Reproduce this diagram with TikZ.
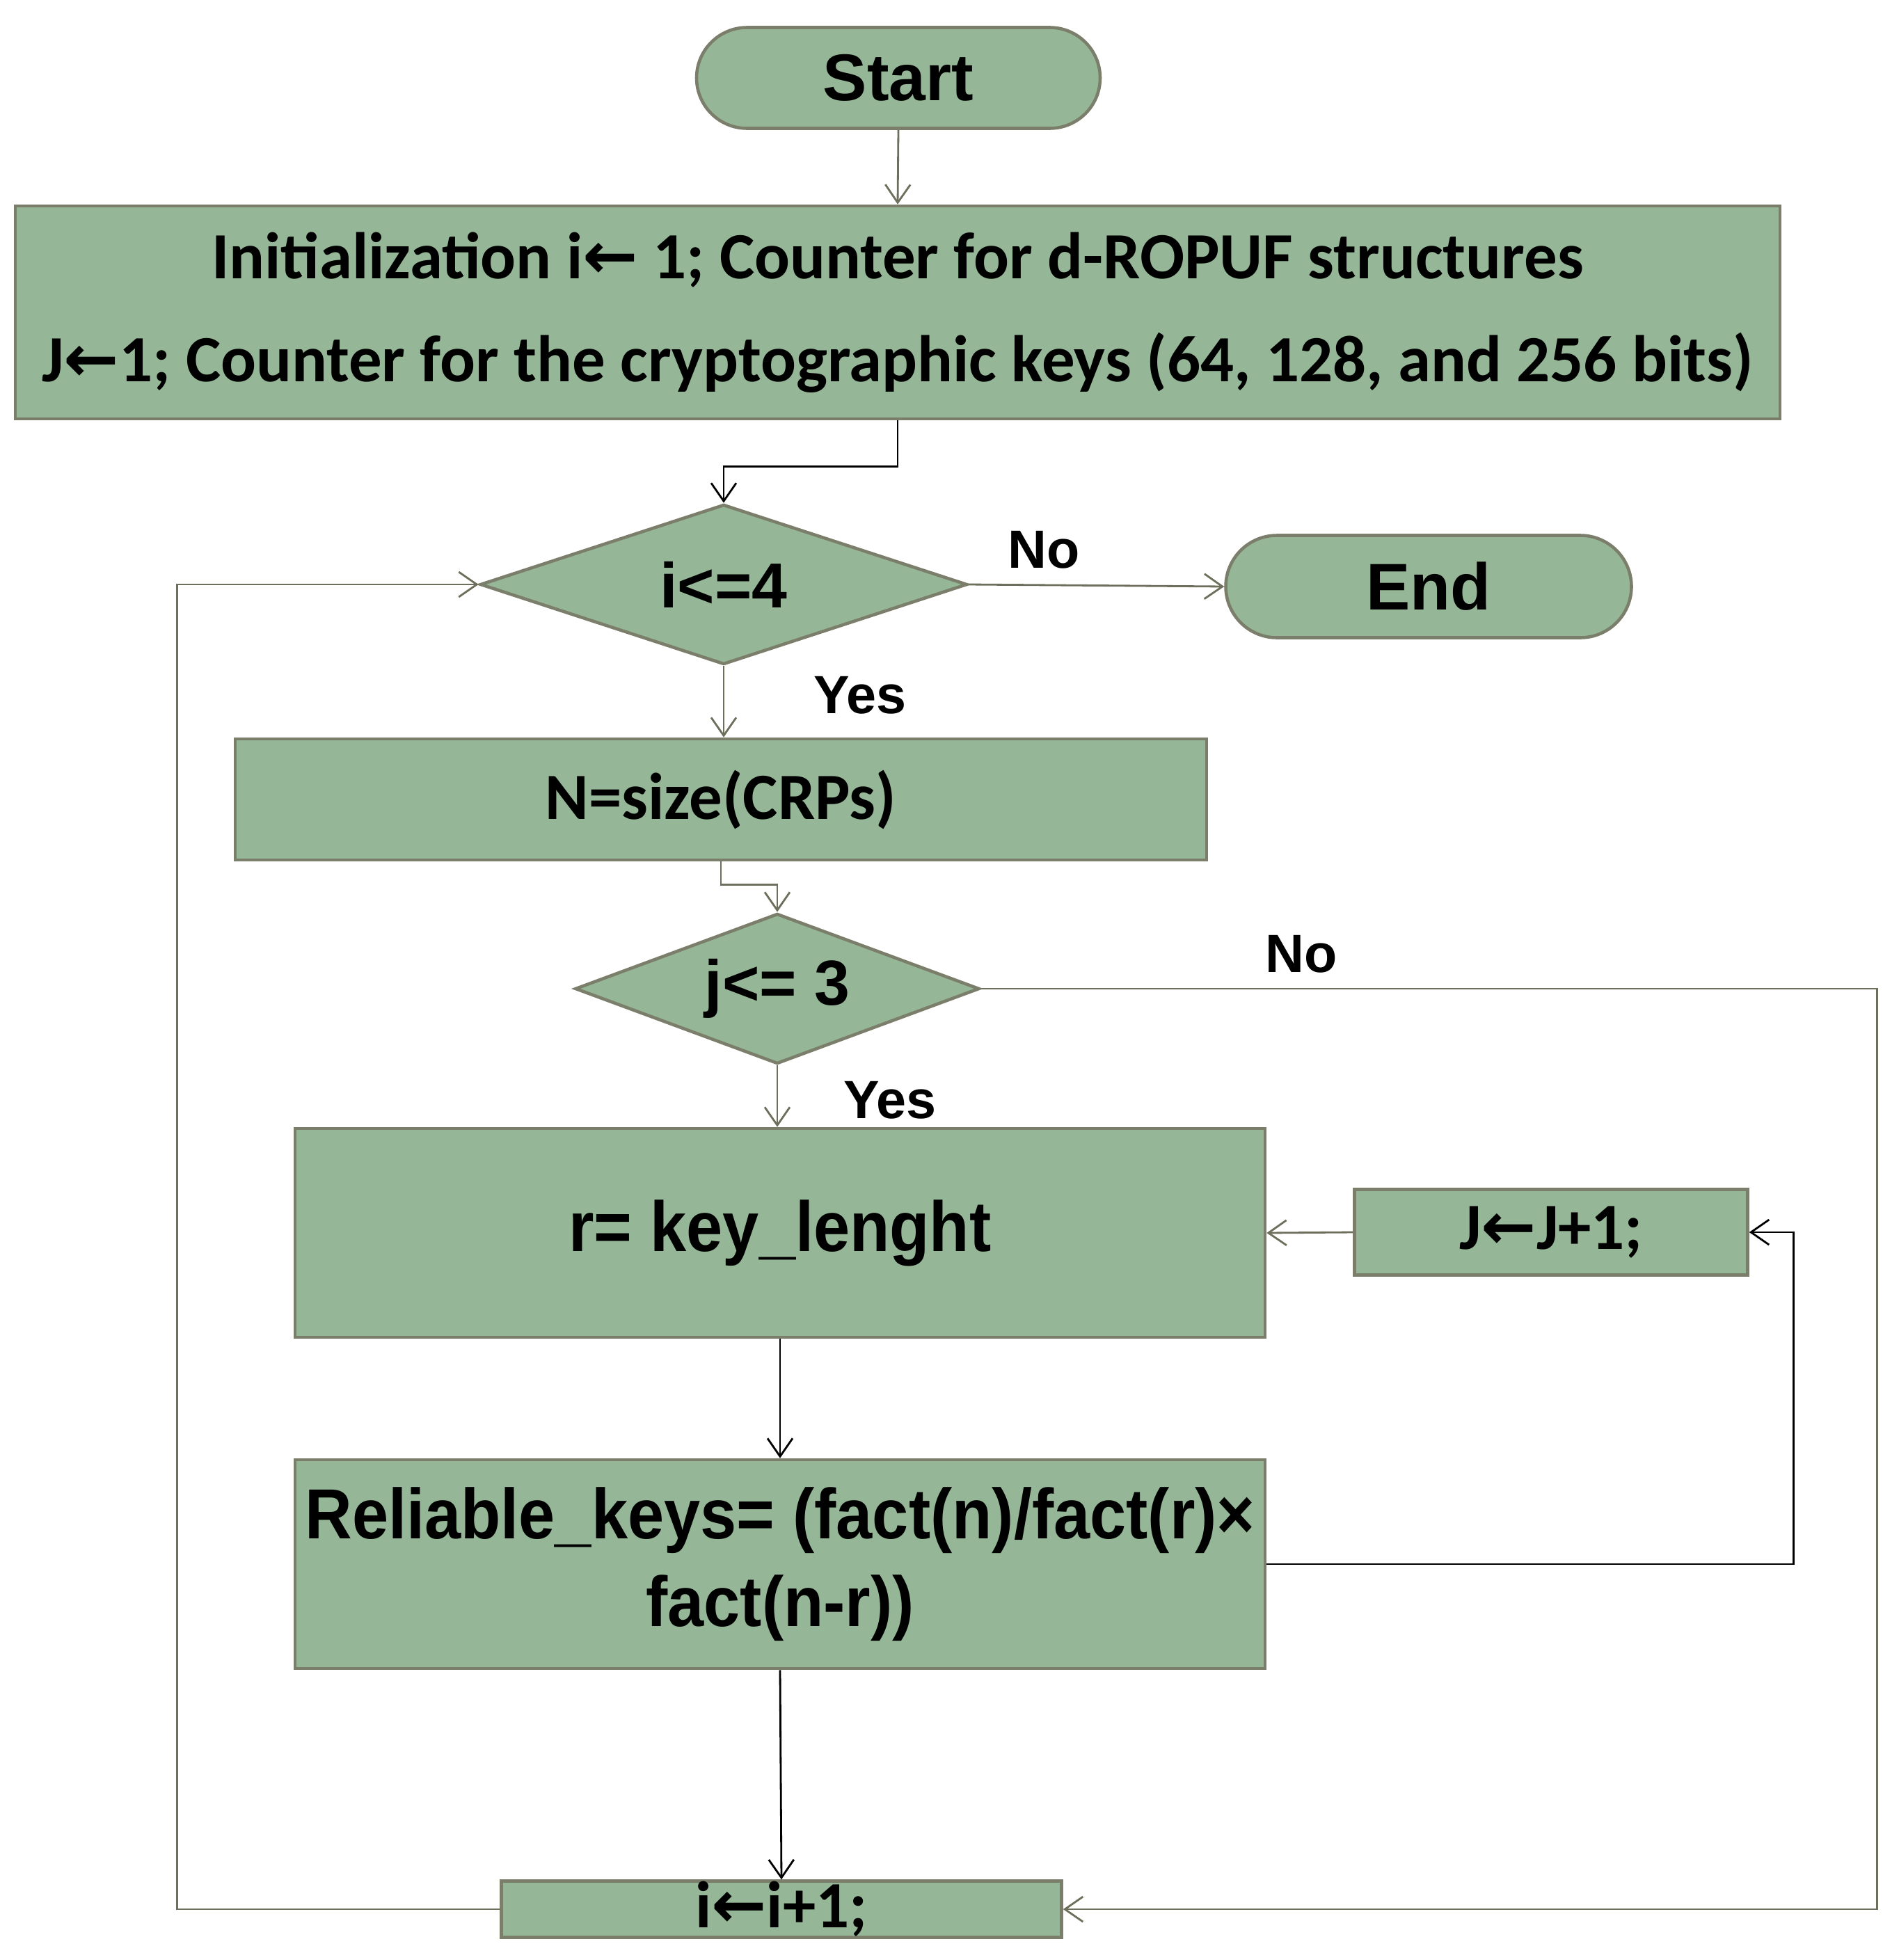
\documentclass[tikz,border=0pt]{standalone}
\usepackage{fontspec}
\setmainfont{Liberation Sans}
\newfontfamily\calib{Carlito}
\newfontfamily\arialn[FakeStretch=0.92]{Liberation Sans}
\newfontfamily\arrowfont{DejaVu Sans}
\usetikzlibrary{arrows.meta,positioning,calc,shapes.geometric,shapes.misc}
\definecolor{cBox}{HTML}{95B797}
\definecolor{cEdge}{HTML}{7B7E6A}
\definecolor{cLine}{HTML}{6E6E5C}
\newcommand{\lar}{{\arrowfont\bfseries ←}}

\begin{document}
\begin{tikzpicture}[
    box/.style={draw=cEdge, fill=cBox, line width=1.3pt, align=center, inner sep=0pt},
    term/.style={box, rounded rectangle, font=\bfseries\fontsize{27}{32}\selectfont},
    test/.style={box, diamond, font=\bfseries\fontsize{26}{30}\selectfont},
    arr/.style={-{Straight Barb[length=2.6mm,width=3.6mm]}, line width=0.8pt, draw=cLine},
    lbl/.style={font=\bfseries\fontsize{22}{26}\selectfont}
]
\useasboundingbox (0,0) rectangle (27.29,-28.17);

\node[term, minimum width=5.8cm, minimum height=1.45cm] (start) at (12.91,-1.12) {Start};
\node[box, minimum width=25.36cm, minimum height=3.06cm, font=\calib\bfseries\fontsize{27}{42}\selectfont] (init) at (12.90,-4.49)
  {Initialization i\lar\ 1; Counter for d-ROPUF structures\\J\lar1; Counter for the cryptographic keys (64, 128, and 256 bits)};
\node[test, aspect=3.0, minimum width=7.0cm, minimum height=2.3cm] (dec1) at (10.40,-8.40) {i<=4};
\node[term, minimum width=5.83cm, minimum height=1.47cm] (end) at (20.53,-8.43) {End};
\node[box, minimum width=13.96cm, minimum height=1.74cm, font=\calib\bfseries\fontsize{27}{30}\selectfont] (size) at (10.36,-11.49) {N=size(CRPs)};
\node[test, aspect=2.7, minimum width=5.81cm, minimum height=2.16cm] (dec2) at (11.17,-14.21) {j<= 3};
\node[box, minimum width=13.94cm, minimum height=3.0cm, font=\arialn\bfseries\fontsize{29}{34}\selectfont] (keylen) at (11.21,-17.72) {r= key\_lenght};
\node[box, minimum width=5.65cm, minimum height=1.23cm, font=\calib\bfseries\fontsize{27}{30}\selectfont] (jinc) at (22.29,-17.71) {J\lar J+1;};
\node[box, minimum width=13.94cm, minimum height=3.0cm, font=\arialn\bfseries\fontsize{29}{36}\selectfont] (rel) at (11.21,-22.48) {Reliable\_keys= (fact(n)/fact(r)×\\fact(n-r))};
\node[box, minimum width=8.05cm, minimum height=0.81cm, font=\calib\bfseries\fontsize{27}{30}\selectfont] (iinc) at (11.23,-27.44) {i\lar i+1;};

\node[lbl] (no1) at (15.00,-7.90) {No};
\node[lbl] (yes1) at (12.36,-9.99) {Yes};
\node[lbl] (no2) at (18.70,-13.71) {No};
\node[lbl] (yes2) at (12.79,-15.81) {Yes};

\draw[arr] (start.south) -- (init.north);
\draw[arr, draw=black] (init.south) -- ++(0,-0.66) -| (dec1.north);
\draw[arr] (dec1.east) -- (end.west);
\draw[arr] (dec1.south) -- (dec1.south |- size.north);
\draw[arr] (size.south) -- ++(0,-0.33) -| (dec2.north);
\draw[arr] (dec2.south) -- (dec2.south |- keylen.north);
\draw[arr] (dec2.east) -- ++(12.88,0) |- (iinc.east);
\draw[arr, draw=black] (keylen.south) -- (rel.north);
\draw[arr] (jinc.west) -- (keylen.east);
\draw[arr, draw=black] (rel.east) -- ++(7.57,0) |- (jinc.east);
\draw[arr, draw=black] (rel.south) -- (iinc.north);
\draw[arr] (iinc.west) -- ++(-4.64,0) |- (dec1.west);

\end{tikzpicture}
\end{document}
